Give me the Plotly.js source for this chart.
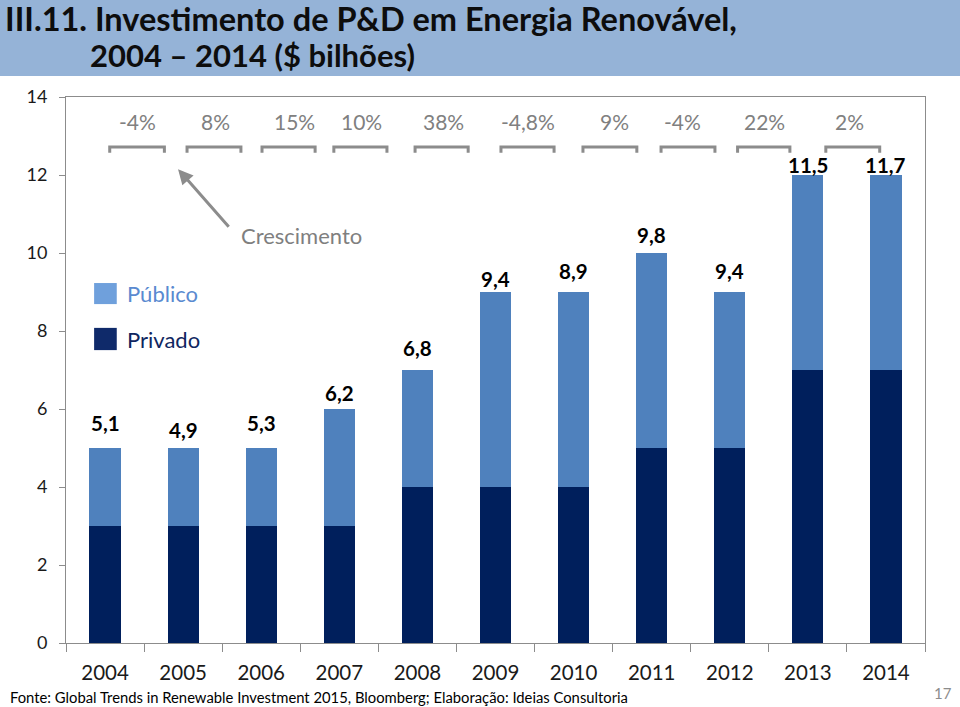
<!DOCTYPE html>
<html>
<head>
<meta charset="utf-8">
<script src="https://cdn.plot.ly/plotly-3.0.1.min.js"></script>
<style>
html,body{margin:0;padding:0;background:#fff;}
#chart{width:960px;height:707px;}
</style>
</head>
<body>
<div id="chart"></div>
<script>
// ---- data ----
const years = ['2004','2005','2006','2007','2008','2009','2010','2011','2012','2013','2014'];
const privado = [3,3,3,3,4,4,4,5,5,7,7];
const publico = [2,2,2,3,3,5,5,5,4,5,5];
const totalLabels = ['5,1','4,9','5,3','6,2','6,8','9,4','8,9','9,8','9,4','11,5','11,7'];
const growthLabels = ['-4%','8%','15%','10%','38%','-4,8%','9%','-4%','22%','2%'];

// ---- styling / placement ----
const FONT = 'Lato, "Open Sans", sans-serif';
const labelShift = [11,4,11,2,8,-1,7,4,7,-4,-4];
const bracketX = [[0.06,0.76],[1.05,1.74],[2.01,2.69],[2.93,3.61],[3.97,4.65],[5.07,5.75],[6.12,6.81],[7.12,7.81],[8.10,8.77],[9.23,9.92]];
const growthX = [0.42,1.41,2.43,3.29,4.33,5.42,6.53,7.39,8.44,9.53];

const pos = years.map((_, i) => i);           // category positions on the axis
const bounds = years.concat(['']).map((_, i) => i - 0.5);

const traces = [
  {type:'bar', name:'Privado', x:pos, y:privado, marker:{color:'#001f5c'}, width:0.4, hoverinfo:'y'},
  {type:'bar', name:'Público', x:pos, y:publico, marker:{color:'#4f81bd'}, width:0.4, hoverinfo:'y'}
];

const annotations = [];
const shapes = [];

// title band
shapes.push({type:'rect', xref:'paper', yref:'paper', x0:-66/859, x1:(960-66)/859, y0:(643-76)/546, y1:643/546, fillcolor:'#95b3d7', line:{width:0}, layer:'below'});
annotations.push({xref:'paper', yref:'paper', x:-63/859, y:(643-18)/546, xanchor:'left', yanchor:'middle', showarrow:false,
  text:'<b>III.11. Investimento de P&D em Energia Renovável,</b>', font:{family:FONT, size:32.5, color:'#0d0d0d'}});
annotations.push({xref:'paper', yref:'paper', x:(88-66)/859, y:(643-55)/546, xanchor:'left', yanchor:'middle', showarrow:false,
  text:'<b>2004 – 2014 ($ bilhões)</b>', font:{family:FONT, size:31, color:'#0d0d0d'}});

// totals
const totals = privado.map((v,i)=>v+publico[i]);
pos.forEach((p,i)=>{
  annotations.push({x:p, y:totals[i], xref:'x', yref:'y', yanchor:'bottom', showarrow:false, yshift:labelShift[i],
    text:'<b>'+totalLabels[i]+'</b>', font:{family:FONT, size:20.5, color:'#000'}});
});

// growth brackets & labels
growthLabels.forEach((g,i)=>{
  const [a,b] = bracketX[i];
  shapes.push({type:'path', xref:'x', yref:'y', path:`M ${a},12.57 L ${a},12.72 L ${b},12.72 L ${b},12.57`,
    line:{color:'#8c8c8c', width:3}});
  annotations.push({x:growthX[i], y:13.36, xref:'x', yref:'y', showarrow:false, text:g,
    font:{family:FONT, size:21, color:'#808080'}});
});

// crescimento arrow
annotations.push({x:0.935, y:12.15, xref:'x', yref:'y', text:'', showarrow:true, ax:52, ay:59,
  arrowhead:2, arrowsize:1, arrowwidth:3, arrowcolor:'#8c8c8c'});
annotations.push({x:2.52, y:10.44, xref:'x', yref:'y', showarrow:false, text:'Crescimento',
  font:{family:FONT, size:22, color:'#7f7f7f'}});

// legend
shapes.push({type:'rect', xref:'x', yref:'y', x0:-0.14, x1:0.15, y0:8.69, y1:9.23, fillcolor:'#6fa0dc', line:{width:0}});
shapes.push({type:'rect', xref:'x', yref:'y', x0:-0.14, x1:0.15, y0:7.51, y1:8.08, fillcolor:'#0f2a6a', line:{width:0}});
annotations.push({x:0.26, y:8.95, xref:'x', yref:'y', xanchor:'left', showarrow:false, text:'Público',
  font:{family:FONT, size:22, color:'#5a8ad0'}});
annotations.push({x:0.26, y:7.79, xref:'x', yref:'y', xanchor:'left', showarrow:false, text:'Privado',
  font:{family:FONT, size:22, color:'#0f2660'}});

// footer
annotations.push({xref:'paper', yref:'paper', x:-58/859, y:(643-697)/546, xanchor:'left', yanchor:'middle', showarrow:false,
  text:'Fonte: Global Trends in Renewable Investment 2015, Bloomberg; Elaboração: Ideias Consultoria',
  font:{family:FONT, size:14.8, color:'#000'}});
annotations.push({xref:'paper', yref:'paper', x:(943-66)/859, y:(643-693)/546, xanchor:'center', yanchor:'middle', showarrow:false,
  text:'17', font:{family:FONT, size:15, color:'#8c8c8c'}});

const layout = {
  width:960, height:707,
  margin:{l:66, r:35, t:97, b:64, pad:0},
  paper_bgcolor:'#fff', plot_bgcolor:'#fff',
  barmode:'stack', showlegend:false,
  font:{family:FONT},
  xaxis:{range:[-0.5, years.length-0.5], showgrid:false, zeroline:false, showline:true, linecolor:'#8c8c8c', linewidth:1, mirror:true,
    tickmode:'array', tickvals:pos, ticktext:years, ticks:'',
    minor:{tickmode:'array', tickvals:bounds, ticks:'outside', ticklen:8, tickcolor:'#8c8c8c', showgrid:false},
    tickfont:{family:FONT, size:20.5, color:'#1a1a1a'}, ticklabelstandoff:11, fixedrange:true},
  yaxis:{range:[0,14], dtick:2, showgrid:false, zeroline:false, showline:true, linecolor:'#8c8c8c', linewidth:1, mirror:true,
    ticks:'outside', ticklen:6, tickcolor:'#8c8c8c',
    tickfont:{family:FONT, size:18, color:'#1a1a1a'}, ticklabelstandoff:8, fixedrange:true},
  shapes:shapes, annotations:annotations
};

Plotly.newPlot('chart', traces, layout, {displayModeBar:false, staticPlot:true});
</script>
</body>
</html>
